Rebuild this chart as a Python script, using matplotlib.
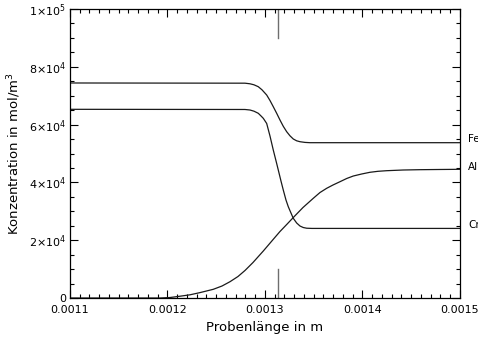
import matplotlib
matplotlib.use("Agg")
import matplotlib.pyplot as plt
from matplotlib.ticker import FixedLocator, MultipleLocator

# Concentration profiles across the sample (position in m, concentration in mol/m^3)
fe_x = [0.00110, 0.00127949, 0.00128462, 0.00128872, 0.00129313, 0.00129692,
        0.00130174, 0.00130513, 0.00130851, 0.00131200, 0.00131538, 0.00131877,
        0.00132226, 0.00132564, 0.00132903, 0.00133251, 0.00133590, 0.00134103,
        0.00134615, 0.00150]
fe_y = [74400, 74330, 74120, 73770, 73110, 72040,
        70240, 68340, 66190, 63910, 61590, 59410,
        57540, 56120, 55020, 54390, 54080, 53840,
        53740, 53740]

cr_x = [0.00110, 0.00127949, 0.00128462, 0.00128872, 0.00129313, 0.00129590,
        0.00129826, 0.00130174, 0.00130338, 0.00130513, 0.00130851, 0.00131200,
        0.00131364, 0.00131641, 0.00131877, 0.00132154, 0.00132390, 0.00132667,
        0.00132903, 0.00133251, 0.00133590, 0.00133928, 0.00134277, 0.00134821,
        0.00150]
cr_y = [65290, 65230, 65050, 64640, 63910, 63000,
        62180, 60400, 58300, 56060, 51210, 46540,
        44290, 40480, 37370, 33910, 31590, 29410,
        27580, 25950, 24910, 24390, 24150, 24080,
        24080]

al_x = [0.00110, 0.00119231, 0.00120256, 0.00121282, 0.00122308, 0.00123333,
        0.00124697, 0.00125590, 0.00126410, 0.00127231, 0.00127949, 0.00128769,
        0.00129826, 0.00130851, 0.00131538, 0.00132226, 0.00132903, 0.00133897,
        0.00134954, 0.00135641, 0.00136328, 0.00136974, 0.00137692, 0.00138380,
        0.00139056, 0.00139918, 0.00140769, 0.00141590, 0.00142482, 0.00144185,
        0.00145897, 0.00147949, 0.00150]
al_y = [0, 0, 170, 620, 1110, 1870,
        3010, 4150, 5640, 7440, 9520, 12280,
        16260, 20310, 23010, 25430, 27850, 31310,
        34500, 36500, 37960, 39100, 40240, 41350,
        42210, 42910, 43500, 43840, 44050, 44290,
        44400, 44470, 44530]

series_names = ["Fe", "Al", "Cr"]
label_y = [55000, 45500, 25100]

marker_x = 0.001313

x_ticks = [0.0011, 0.0012, 0.0013, 0.0014, 0.0015]
x_tick_labels = ["0.0011", "0.0012", "0.0013", "0.0014", "0.0015"]
y_ticks = [0, 20000, 40000, 60000, 80000, 100000]
y_tick_labels = ["0", r"$2{\times}10^{4}$", r"$4{\times}10^{4}$",
                 r"$6{\times}10^{4}$", r"$8{\times}10^{4}$", r"$1{\times}10^{5}$"]

fig = plt.figure(figsize=(4.78, 3.38), dpi=100)
ax = fig.add_axes([0.1464, 0.1183, 0.8159, 0.8551])

line_kw = dict(color="#1a1a1a", lw=0.9, solid_joinstyle="round")
ax.plot(fe_x, fe_y, **line_kw)
ax.plot(cr_x, cr_y, **line_kw)
ax.plot(al_x, al_y, **line_kw)

# interface marker at top and bottom
ax.axvline(marker_x, ymin=0.0, ymax=0.1, color="#6e6e6e", lw=1.0)
ax.axvline(marker_x, ymin=0.9, ymax=1.0, color="#6e6e6e", lw=1.0)

ax.set_xlim(0.0011, 0.0015)
ax.set_ylim(0, 100000)

ax.xaxis.set_major_locator(FixedLocator(x_ticks))
ax.set_xticklabels(x_tick_labels)
ax.xaxis.set_minor_locator(MultipleLocator(0.00001))
ax.yaxis.set_major_locator(FixedLocator(y_ticks))
ax.set_yticklabels(y_tick_labels)
ax.yaxis.set_minor_locator(MultipleLocator(5000))

ax.tick_params(which="both", direction="in", top=True, right=True,
               colors="black", labelsize=8, width=0.8)
ax.tick_params(which="major", length=6)
ax.tick_params(which="minor", length=3)
ax.tick_params(axis="x", pad=5)
ax.tick_params(axis="y", pad=3)

for s in ax.spines.values():
    s.set_linewidth(0.9)
    s.set_color("black")

ax.set_xlabel("Probenlänge in m", fontsize=9.5, labelpad=4)
ax.set_ylabel(r"Konzentration in mol/m$^3$", fontsize=9.5, labelpad=4)

for name, yv in zip(series_names, label_y):
    ax.text(0.0015082, yv, name, fontsize=7.5, ha="left", va="center",
            clip_on=False)

fig.savefig("out.png", dpi=100)
